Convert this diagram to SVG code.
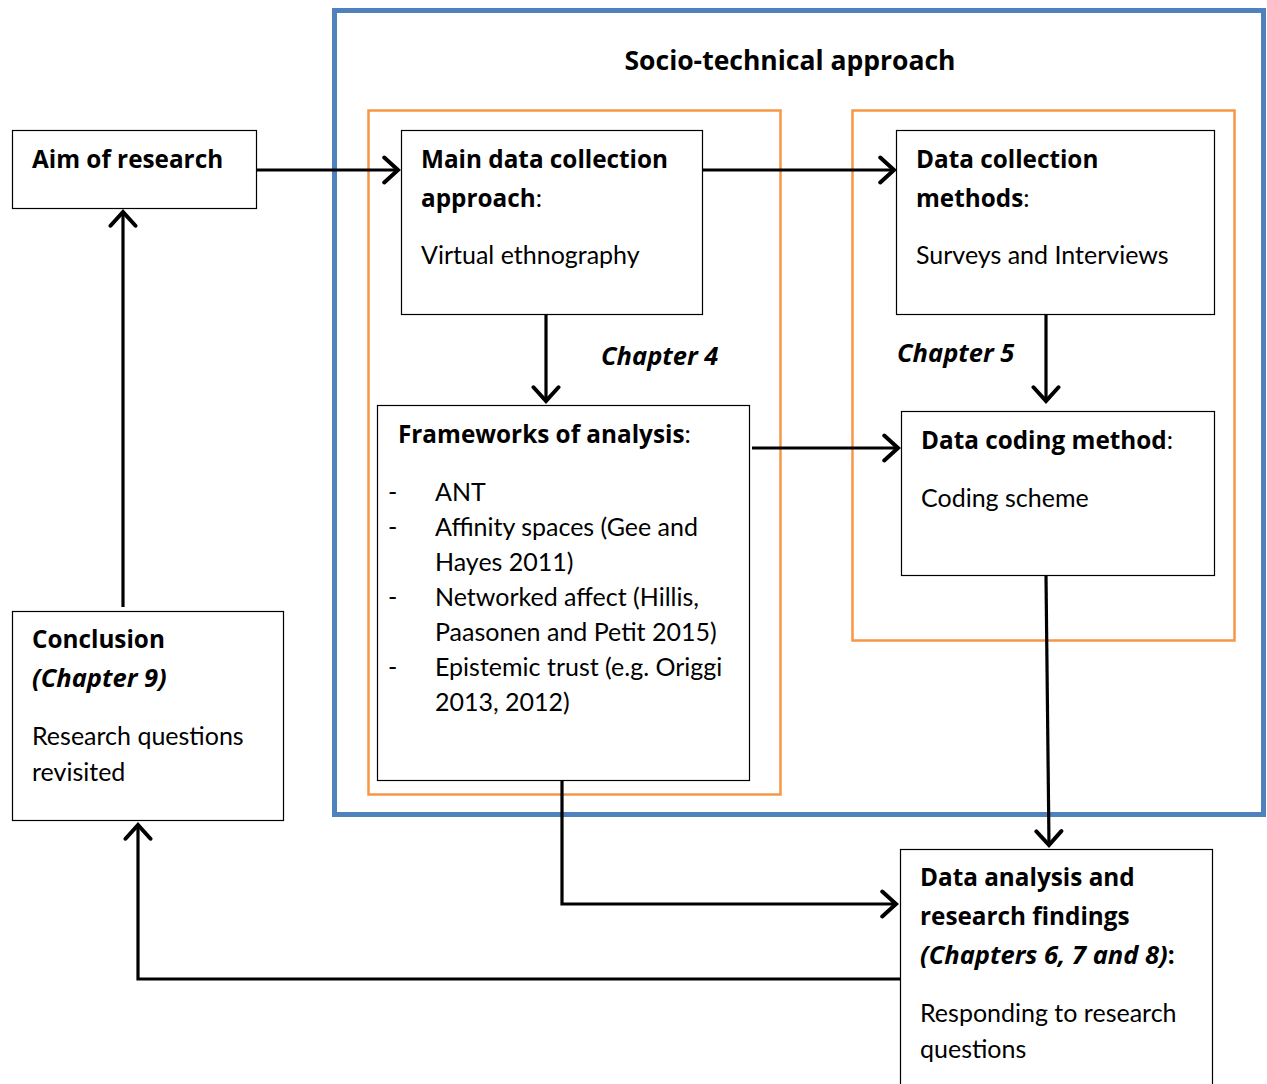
<svg xmlns="http://www.w3.org/2000/svg" width="1267" height="1084" viewBox="0 0 1267 1084">
  <style>
    .box { fill: #ffffff; stroke: #000000; stroke-width: 1.2; }
    .outer { fill: none; stroke: #4f81bd; stroke-width: 5; }
    .group { fill: none; stroke: #f79646; stroke-width: 2.5; }
    .conn { fill: none; stroke: #000000; stroke-width: 3.2; }
    text { font-family: "Lato", "Liberation Sans", sans-serif; font-size: 25px; fill: #000000; }
    .b { font-family: "Open Sans", "Liberation Sans", sans-serif; font-size: 24.3px; font-weight: bold; }
    .bi { font-family: "Open Sans", "Liberation Sans", sans-serif; font-size: 25.5px; font-weight: bold; font-style: italic; }
    .title { font-size: 26.5px; }
  </style>
  <defs>
    <marker id="arrow" markerUnits="userSpaceOnUse" markerWidth="30" markerHeight="30" viewBox="-14 -12 16 24" refX="0" refY="0" orient="auto">
      <path d="M-11,-10 L0,0 L-11,10" fill="none" stroke="#000000" stroke-width="3.2" stroke-linecap="round" stroke-linejoin="miter"/>
    </marker>
  </defs>

  <rect width="1267" height="1084" fill="#ffffff"/>

  <!-- frames -->
  <rect class="outer" x="334.5" y="10.5" width="929" height="804"/>
  <text class="b title" x="790" y="70" text-anchor="middle">Socio-technical approach</text>
  <rect class="group" x="368.5" y="110.5" width="412" height="684"/>
  <rect class="group" x="852.5" y="110.5" width="382" height="530"/>

  <!-- connectors -->
  <g id="connectors">
    <line class="conn" x1="256" y1="170" x2="398" y2="170" marker-end="url(#arrow)"/>
    <line class="conn" x1="702" y1="170" x2="894" y2="170" marker-end="url(#arrow)"/>
    <line class="conn" x1="546" y1="314" x2="546" y2="401" marker-end="url(#arrow)"/>
    <line class="conn" x1="1046" y1="314" x2="1046" y2="401" marker-end="url(#arrow)"/>
    <line class="conn" x1="752" y1="448" x2="898" y2="448" marker-end="url(#arrow)"/>
    <line class="conn" x1="1046" y1="576" x2="1049" y2="845" marker-end="url(#arrow)"/>
    <polyline class="conn" points="562,780 562,904 896,904" marker-end="url(#arrow)"/>
    <polyline class="conn" points="900,979 138,979 138,825" marker-end="url(#arrow)"/>
    <line class="conn" x1="123" y1="607" x2="123" y2="212" marker-end="url(#arrow)"/>
  </g>

  <!-- nodes -->
  <g id="aim">
    <rect class="box" x="12.5" y="130.5" width="244" height="78"/>
    <text class="b" x="32" y="168">Aim of research</text>
  </g>

  <g id="main-approach">
    <rect class="box" x="401.5" y="130.5" width="301" height="184"/>
    <text class="b" x="421" y="168">Main data collection</text>
    <text x="421" y="207"><tspan class="b">approach</tspan>:</text>
    <text x="421" y="264">Virtual ethnography</text>
  </g>

  <g id="collection-methods">
    <rect class="box" x="896.5" y="130.5" width="318" height="184"/>
    <text class="b" x="916" y="168">Data collection</text>
    <text x="916" y="207"><tspan class="b">methods</tspan>:</text>
    <text x="916" y="264">Surveys and Interviews</text>
  </g>

  <g id="chapter-4">
    <text class="bi" x="601" y="365">Chapter 4</text>
  </g>
  <g id="chapter-5">
    <text class="bi" x="897" y="362">Chapter 5</text>
  </g>

  <g id="frameworks">
    <rect class="box" x="377.5" y="405.5" width="372" height="375"/>
    <text x="398" y="443"><tspan class="b">Frameworks of analysis</tspan>:</text>
    <text x="388" y="501">-</text>
    <text x="435" y="501">ANT</text>
    <text x="388" y="536">-</text>
    <text x="435" y="536">Affinity spaces (Gee and</text>
    <text x="435" y="571">Hayes 2011)</text>
    <text x="388" y="606">-</text>
    <text x="435" y="606">Networked affect (Hillis,</text>
    <text x="435" y="641">Paasonen and Petit 2015)</text>
    <text x="388" y="676">-</text>
    <text x="435" y="676">Epistemic trust (e.g. Origgi</text>
    <text x="435" y="711">2013, 2012)</text>
  </g>

  <g id="coding-method">
    <rect class="box" x="901.5" y="411.5" width="313" height="164"/>
    <text x="921" y="449"><tspan class="b">Data coding method</tspan>:</text>
    <text x="921" y="507">Coding scheme</text>
  </g>

  <g id="conclusion">
    <rect class="box" x="12.5" y="611.5" width="271" height="209"/>
    <text class="b" x="32" y="648">Conclusion</text>
    <text class="bi" x="32" y="687">(Chapter 9)</text>
    <text x="32" y="745">Research questions</text>
    <text x="32" y="781">revisited</text>
  </g>

  <g id="analysis">
    <rect class="box" x="900.5" y="849.5" width="312" height="240"/>
    <text class="b" x="920" y="886">Data analysis and</text>
    <text class="b" x="920" y="925">research findings</text>
    <text x="920" y="964"><tspan class="bi">(Chapters 6, 7 and 8)</tspan><tspan class="b">:</tspan></text>
    <text x="920" y="1022">Responding to research</text>
    <text x="920" y="1058">questions</text>
  </g>
</svg>
